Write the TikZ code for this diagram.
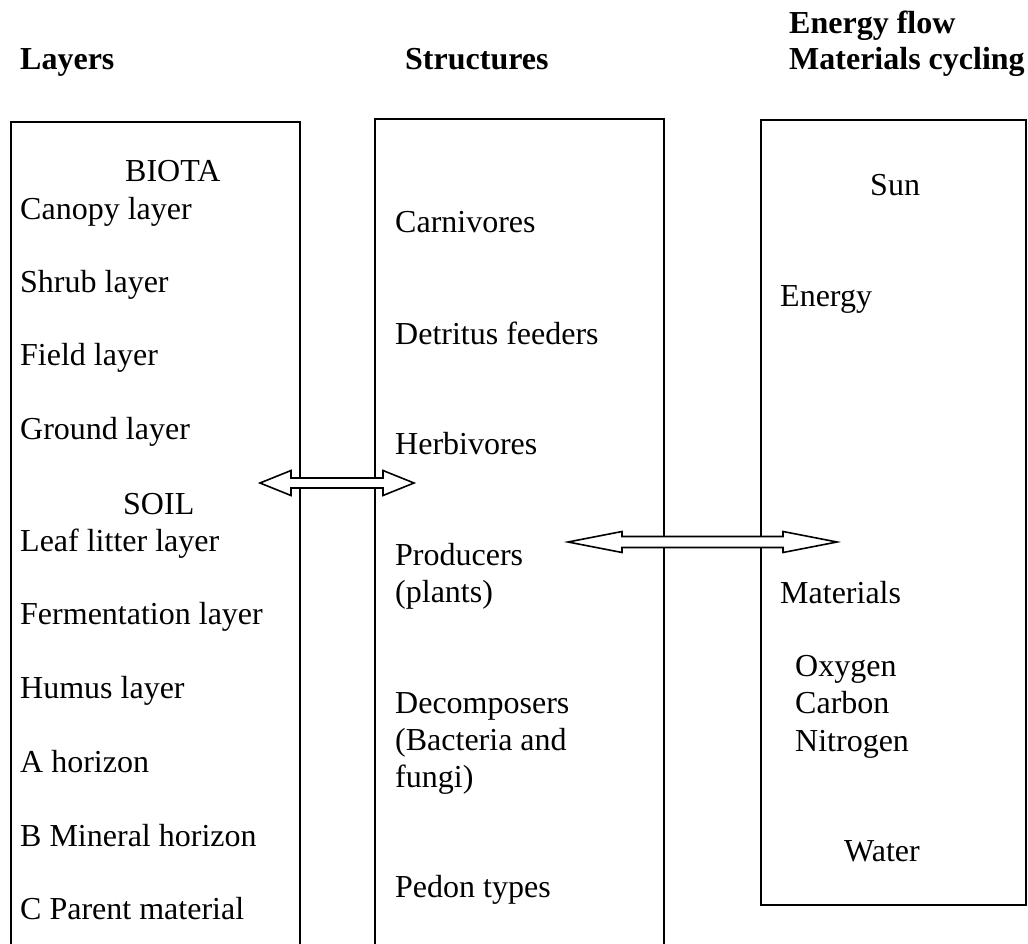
\documentclass[tikz,border=0pt]{standalone}
\usepackage{fontspec}
\setmainfont{Liberation Serif}
\usetikzlibrary{calc}
\newcommand{\hollowdarrow}[5]{% start, end, head length, head half-height, shaft half-height
  \draw[hollowarrow] let \p1=(#1), \p2=(#2) in
    (\x1,\y1) -- (\x1+#3,\y1+#4) -- (\x1+#3,\y1+#5) -- (\x2-#3,\y1+#5)
    -- (\x2-#3,\y1+#4) -- (\x2,\y1) -- (\x2-#3,\y1-#4) -- (\x2-#3,\y1-#5)
    -- (\x1+#3,\y1-#5) -- (\x1+#3,\y1-#4) -- cycle;}
\begin{document}
\begin{tikzpicture}[x=1pt,y=-1pt,
  lbl/.style={anchor=base west, inner sep=0pt, font=\fontsize{32}{37}\selectfont},
  hdr/.style={anchor=base west, inner sep=0pt, font=\fontsize{32}{37}\selectfont\bfseries},
  boxline/.style={line width=1.8pt},
  hollowarrow/.style={line width=1.6pt, fill=white, line join=miter}]
\useasboundingbox (0,0) rectangle (1028,944);

% headers
\node[hdr] (hlayers) at (20,70) {Layers};
\node[hdr] (hstruct) at (405,70) {Structures};
\node[hdr] (henergy) at (789,34) {Energy flow};
\node[hdr] (hmat) at (789,70) {Materials cycling};

% boxes
\draw[boxline] (11,944) -- (11,122) -- (300,122) -- (300,944);
\draw[boxline] (375,944) -- (375,119) -- (664,119) -- (664,944);
\draw[boxline] (761,120) rectangle (1026,905);

% arrows
\coordinate (a1s) at (260,483);
\coordinate (a1e) at (414,483);
\coordinate (a2s) at (568,542);
\coordinate (a2e) at (837,542);
\hollowdarrow{a1s}{a1e}{31pt}{12.5pt}{5pt}
\hollowdarrow{a2s}{a2e}{54pt}{10.5pt}{5.5pt}

% left column
\node[lbl] (biota) at (125,182) {BIOTA};
\node[lbl] (canopy) at (20,219) {Canopy layer};
\node[lbl] (shrub) at (20,292) {Shrub layer};
\node[lbl] (field) at (20,365) {Field layer};
\node[lbl] (ground) at (20,439) {Ground layer};
\node[lbl] (soil) at (123,514) {SOIL};
\node[lbl] (leaf) at (20,551) {Leaf litter layer};
\node[lbl] (ferm) at (20,624) {Fermentation layer};
\node[lbl] (humus) at (20,698) {Humus layer};
\node[lbl] (ahor) at (20,772) {A horizon};
\node[lbl] (bhor) at (20,846) {B Mineral horizon};
\node[lbl] (chor) at (20,919) {C Parent material};

% middle column
\node[lbl] (carn) at (395,233) {Carnivores};
\node[lbl] (detr) at (395,344) {Detritus feeders};
\node[lbl] (herb) at (395,454) {Herbivores};
\node[lbl] (prod1) at (395,565) {Producers};
\node[lbl] (prod2) at (395,602) {(plants)};
\node[lbl] (dec1) at (395,713) {Decomposers};
\node[lbl] (dec2) at (395,750) {(Bacteria and};
\node[lbl] (dec3) at (395,787) {fungi)};
\node[lbl] (pedon) at (395,897) {Pedon types};

% right column
\node[lbl] (sun) at (870,196) {Sun};
\node[lbl] (energy) at (780,306) {Energy};
\node[lbl] (materials) at (780,603) {Materials};
\node[lbl] (oxygen) at (795,676) {Oxygen};
\node[lbl] (carbon) at (795,713) {Carbon};
\node[lbl] (nitrogen) at (795,751) {Nitrogen};
\node[lbl] (water) at (844,861) {Water};
\end{tikzpicture}
\end{document}
